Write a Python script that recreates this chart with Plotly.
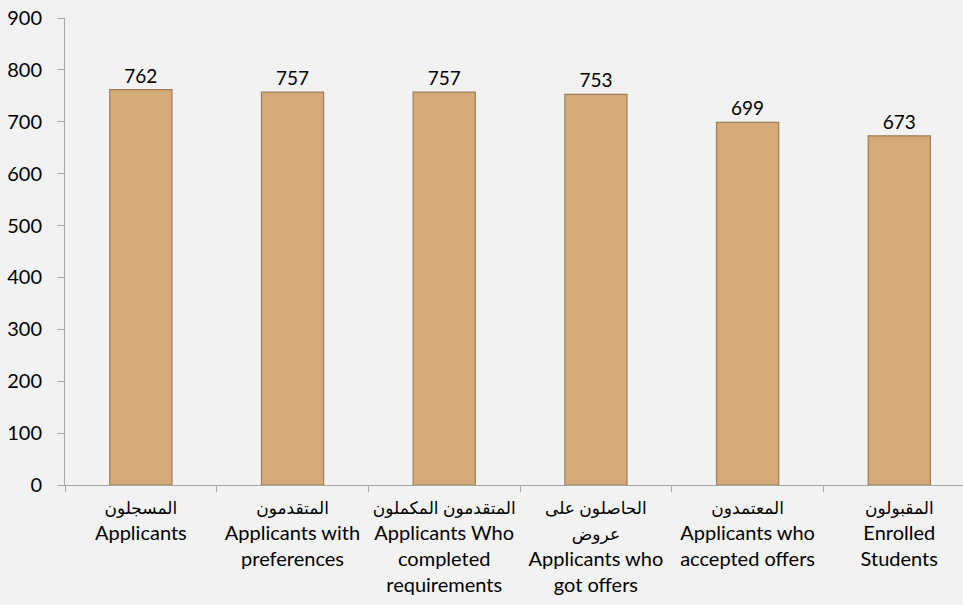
import plotly.graph_objects as go

# categorie (arabo + inglese) e valori
stages = ["registered", "preferences", "completed", "offers", "accepted", "enrolled"]
arabic = ["المسجلون", "المتقدمون", "المتقدمون المكملون", "الحاصلون على<br>عروض", "المعتمدون", "المقبولون"]
english = [
    "Applicants",
    "Applicants with<br>preferences",
    "Applicants Who<br>completed<br>requirements",
    "Applicants who<br>got offers",
    "Applicants who<br>accepted offers",
    "Enrolled<br>Students",
]
counts = [762, 757, 757, 753, 699, 673]

font_main = "Lato, 'DejaVu Sans', sans-serif"

# l'arabo è un po' più piccolo dell'inglese
labels = []
for a, e in zip(arabic, english):
    a_small = "<br>".join(f"<span style='font-size:17px'>{p}</span>" for p in a.split("<br>"))
    labels.append(a_small + "<br>" + e)

fig = go.Figure(
    go.Bar(
        x=stages,
        y=counts,
        width=0.41,
        marker=dict(color="#D4AB78", line=dict(color="#9C7E57", width=1.2)),
        text=counts,
        textposition="outside",
        textfont=dict(size=19, color="#000000", family=font_main),
        cliponaxis=False,
    )
)

fig.update_layout(
    width=963,
    height=605,
    margin=dict(l=65, r=0, t=18, b=120),
    paper_bgcolor="#F2F2F2",
    plot_bgcolor="#F2F2F2",
    font=dict(family=font_main, size=20, color="#000000"),
    showlegend=False,
)

fig.update_xaxes(
    tickmode="array",
    tickvals=stages,
    ticktext=labels,
    tickangle=0,
    range=[-0.5, 5.42],
    showline=True,
    linecolor="#A6A6A6",
    linewidth=1,
    ticks="outside",
    tickson="boundaries",
    ticklen=6,
    tickcolor="#A6A6A6",
    ticklabelstandoff=4,
    showgrid=False,
    tickfont=dict(size=20),
)

fig.update_yaxes(
    range=[0, 900],
    dtick=100,
    showline=True,
    linecolor="#A6A6A6",
    linewidth=1,
    ticks="outside",
    ticklen=6,
    tickcolor="#A6A6A6",
    ticklabelstandoff=12,
    showgrid=False,
    zeroline=False,
    tickfont=dict(size=20),
)

# niente margini bianchi attorno al grafico
fig.write_html(
    "out.html",
    config={"displayModeBar": False},
    post_script="document.body.style.margin='0';document.body.style.background='#F2F2F2';",
)
